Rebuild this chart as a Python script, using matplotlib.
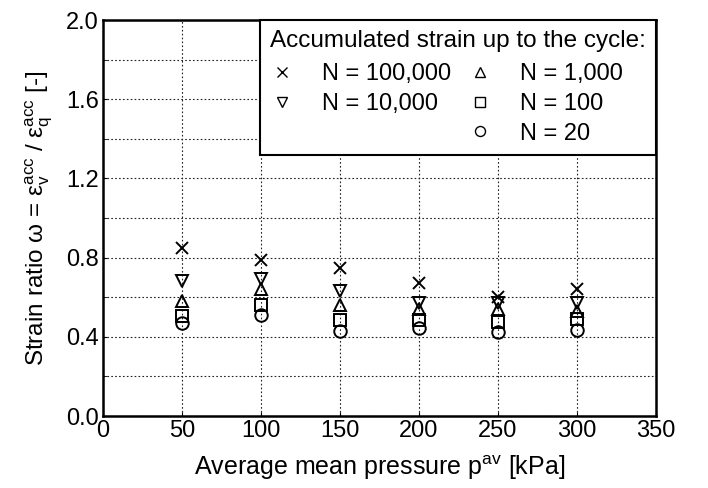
import matplotlib
matplotlib.use("Agg")
import matplotlib.pyplot as plt
from matplotlib.lines import Line2D
import numpy as np

plt.rcParams['font.family'] = ['Liberation Sans', 'DejaVu Sans']
plt.rcParams['mathtext.fontset'] = 'custom'
plt.rcParams['mathtext.rm'] = 'Liberation Sans'
plt.rcParams['mathtext.it'] = 'Liberation Sans'
plt.rcParams['mathtext.default'] = 'regular'

pressure = [50, 100, 150, 200, 250, 300]
w_100000 = [0.85, 0.79, 0.75, 0.67, 0.60, 0.64]
w_10000 = [0.68, 0.69, 0.63, 0.57, 0.57, 0.57]
w_1000 = [0.58, 0.64, 0.56, 0.54, 0.54, 0.53]
w_100 = [0.505, 0.56, 0.485, 0.485, 0.476, 0.488]
w_20 = [0.47, 0.51, 0.43, 0.443, 0.426, 0.434]

fig = plt.figure(figsize=(7.08, 4.88), dpi=100)
ax = fig.add_axes([0.1455, 0.1475, 0.781, 0.8115])

kw = dict(linestyle='none', color='black', markerfacecolor='none', markeredgecolor='black', markeredgewidth=1.4)
h1, = ax.plot(pressure, w_100000, marker='x', markersize=9, label='N = 100,000', **kw)
h2, = ax.plot(pressure, w_10000, marker='v', markersize=9, label='N = 10,000', **kw)
h3, = ax.plot(pressure, w_1000, marker='^', markersize=9, label='N = 1,000', **kw)
h4, = ax.plot(pressure, w_100, marker='s', markersize=8.5, label='N = 100', **kw)
h5, = ax.plot(pressure, w_20, marker='o', markersize=9, label='N = 20', **kw)

ax.set_xlim(0, 350)
ax.set_ylim(0, 2.0)
ax.set_xticks(np.arange(0, 351, 50))
ax.set_yticks(np.arange(0, 2.01, 0.4))
ax.set_yticks(np.arange(0.2, 2.0, 0.4), minor=True)
ax.set_yticklabels(['0.0', '0.4', '0.8', '1.2', '1.6', '2.0'])
ax.grid(True, which='both', linestyle=(0, (1.5, 2)), color='#222222', linewidth=0.8)
ax.tick_params(which='both', direction='in', length=3, labelsize=17, pad=3)
for s in ax.spines.values():
    s.set_linewidth(1.8)

ax.set_xlabel('Average mean pressure p$^{av}$ [kPa]', fontsize=18, labelpad=8)
ax.set_ylabel(r'Strain ratio ω = ε$_v^{acc}$ / ε$_q^{acc}$ [-]', fontsize=17.5, labelpad=8)

empty = Line2D([], [], linestyle='none', marker=None)
leg = ax.legend([h1, h2, empty, h3, h4, h5],
                ['N = 100,000', 'N = 10,000', '', 'N = 1,000', 'N = 100', 'N = 20'],
                ncol=2, loc='upper right', title='Accumulated strain up to the cycle:',
                fontsize=17, title_fontsize=17.5, markerscale=0.8, frameon=True,
                fancybox=False, edgecolor='black', framealpha=1, borderaxespad=0,
                handlelength=1.0, columnspacing=0.7, labelspacing=0.33, handletextpad=1.2,
                borderpad=0.42, alignment='left')
leg.get_frame().set_linewidth(1.5)
for lh in leg.legend_handles:
    lh.set_markeredgewidth(1.0)
leg._legend_box.sep = 8

fig.savefig('out.png', dpi=100)
